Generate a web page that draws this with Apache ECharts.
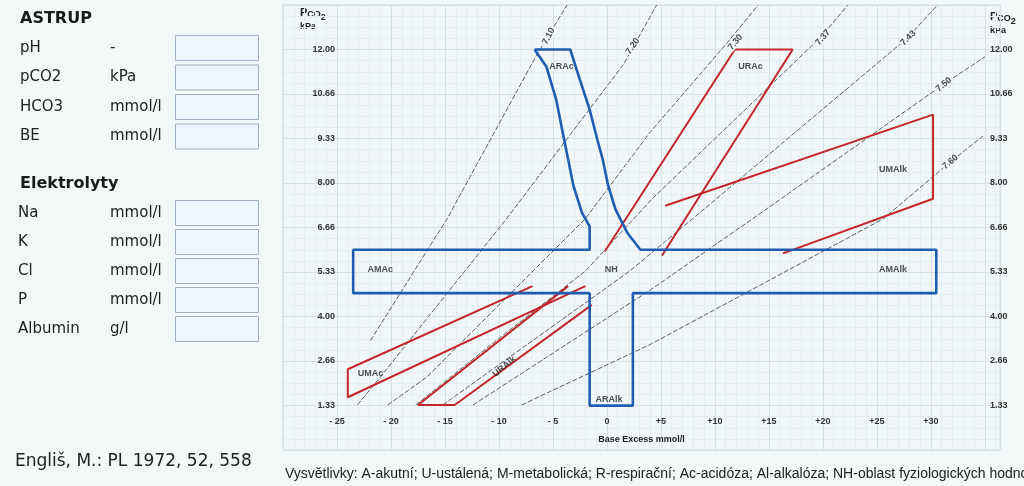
<!DOCTYPE html>
<html>
<head>
<meta charset="utf-8">
<script src="https://cdn.jsdelivr.net/npm/echarts/dist/echarts.min.js"></script>
<style>
  html, body { margin: 0; padding: 0; background: #f2f7f7; }
  #chart { width: 1024px; height: 486px; }
</style>
</head>
<body>
<div id="chart"></div>
<script>
// Base excess axis (mmol/l) and pCO2 axis (kPa)
const beTicks = [-25, -20, -15, -10, -5, 0, 5, 10, 15, 20, 25, 30];
const beTickLabels = ['- 25', '- 20', '- 15', '- 10', '- 5', '0', '+5', '+10', '+15', '+20', '+25', '+30'];
const pco2TickLabels = ['1.33', '2.66', '4.00', '5.33', '6.66', '8.00', '9.33', '10.66', '12.00'];

// Acute zones + normal range (blue outline): ARAc, AMAc, ARAlk, AMAlk, NH
const acuteOutline = [
  [-6.7, 12.0], [-5.6, 11.48], [-4.7, 10.5], [-4.1, 9.52], [-3.6, 8.72], [-3.1, 7.91],
  [-2.3, 7.1], [-1.6, 6.7], [-1.6, 6.0], [-23.5, 6.0], [-23.5, 4.7], [-1.6, 4.7],
  [-1.6, 1.33], [2.4, 1.33], [2.4, 4.7], [30.5, 4.7], [30.5, 6.0], [3.1, 6.0],
  [1.9, 6.5], [0.8, 7.2], [0.1, 7.94], [-0.4, 8.72], [-0.9, 9.31], [-1.6, 10.2],
  [-2.5, 11.09], [-3.4, 12.0], [-6.7, 12.0]
];

// Compensated (steady state) zones, red outlines
const uraCZone = [[-0.2, 5.95], [11.85, 12.0], [17.2, 12.0], [5.1, 5.83]];
const umaLkZone = [[5.4, 7.32], [30.2, 10.05], [30.2, 7.53], [16.3, 5.89]];
const umaCZone = [[-6.9, 4.91], [-24.0, 2.42], [-24.0, 1.58], [-2.0, 4.91]];
const uraLkZone = [[-3.6, 4.91], [-17.5, 1.35], [-14.1, 1.35], [-1.4, 4.35]];

// pH isopleths
const ph710 = [[-21.9, 3.28], [-14.8, 6.93], [-6.5, 11.84], [-3.7, 13.33]];
const ph720 = [[-23.1, 1.35], [-21.0, 2.18], [-9.3, 6.93], [1.5, 11.54], [4.6, 13.33]];
const ph730 = [[-20.3, 1.35], [-16.7, 2.18], [-2.0, 6.93], [4.0, 9.52], [11.1, 12.19], [14.0, 13.33]];
const ph737 = [[-17.7, 1.35], [-9.9, 3.37], [-2.0, 5.36], [4.2, 7.53], [19.9, 12.4], [22.3, 13.33]];
const ph743 = [[-15.2, 1.35], [2.1, 5.36], [8.6, 7.11], [27.8, 12.34], [30.6, 13.33]];
const ph750 = [[-12.4, 1.35], [4.0, 4.79], [13.5, 6.93], [31.1, 10.94], [35.0, 11.78]];
const ph760 = [[-7.9, 1.35], [4.0, 3.16], [25.6, 6.93], [31.8, 8.63], [34.8, 9.4]];
const phNames = ['7.10', '7.20', '7.30', '7.37', '7.43', '7.50', '7.60'];
const phLabelPos = [[-5.4, 12.4], [2.4, 12.1], [11.9, 12.22], [20.0, 12.36], [27.9, 12.34], [31.2, 10.95], [31.8, 8.63]];
const phLabelAngle = [62, 55, 50, 48, 45, 40, 40];

// Zone names
const zoneNames = ['ARAc', 'URAc', 'UMAlk', 'AMAc', 'NH', 'AMAlk', 'UMAc', 'URAlk', 'ARAlk'];
const zonePos = [[-4.2, 11.5], [13.3, 11.5], [26.5, 8.4], [-21.0, 5.4], [0.4, 5.4], [26.5, 5.4], [-21.9, 2.3], [-9.5, 2.5], [0.2, 1.5]];
const zoneAngle = [0, 0, 0, 0, 0, 0, 0, 40, 0];

// Left-hand form
const astrupRows = [['pH', '-'], ['pCO2', 'kPa'], ['HCO3', 'mmol/l'], ['BE', 'mmol/l']];
const elektroRows = [['Na', 'mmol/l'], ['K', 'mmol/l'], ['Cl', 'mmol/l'], ['P', 'mmol/l'], ['Albumin', 'g/l']];

const chart = echarts.init(document.getElementById('chart'), null, { renderer: 'canvas' });

const isoLines = [ph710, ph720, ph730, ph737, ph743, ph750, ph760];
const isoSeries = isoLines.map(function (d) {
  return {
    type: 'line', data: d, showSymbol: false, silent: true, z: 2,
    lineStyle: { color: '#4a4f55', width: 0.9, type: [5, 2] }
  };
});

function outline(d, color, w) {
  return { type: 'line', data: d, showSymbol: false, silent: true, z: 4,
    lineStyle: { color: color, width: w } };
}

const graphics = [];
graphics.push({ type: 'text', left: 20, top: 11, style: { text: 'ASTRUP', font: 'bold 16px "DejaVu Sans"', fill: '#1a1a1a' } });
astrupRows.forEach(function (r, i) {
  const y = 48 + i * 29.5;
  graphics.push({ type: 'text', x: 20, y: y, style: { text: r[0], font: '15px "DejaVu Sans"', fill: '#222', verticalAlign: 'middle' } });
  graphics.push({ type: 'text', x: 110, y: y, style: { text: r[1], font: '15px "DejaVu Sans"', fill: '#222', verticalAlign: 'middle' } });
  graphics.push({ type: 'rect', shape: { x: 175.5, y: y - 12.5, width: 83, height: 25 }, style: { fill: '#eef6fc', stroke: '#9fb1c0', lineWidth: 1 } });
});
graphics.push({ type: 'text', left: 20, top: 176, style: { text: 'Elektrolyty', font: 'bold 16px "DejaVu Sans"', fill: '#1a1a1a' } });
elektroRows.forEach(function (r, i) {
  const y = 213 + i * 29;
  graphics.push({ type: 'text', x: 18, y: y, style: { text: r[0], font: '15px "DejaVu Sans"', fill: '#222', verticalAlign: 'middle' } });
  graphics.push({ type: 'text', x: 110, y: y, style: { text: r[1], font: '15px "DejaVu Sans"', fill: '#222', verticalAlign: 'middle' } });
  graphics.push({ type: 'rect', shape: { x: 175.5, y: y - 12.5, width: 83, height: 25 }, style: { fill: '#eef6fc', stroke: '#9fb1c0', lineWidth: 1 } });
});
graphics.push({ type: 'text', x: 15, y: 462, style: { text: 'Engliš, M.: PL 1972, 52, 558', font: '17px "DejaVu Sans"', fill: '#222', verticalAlign: 'middle' } });
graphics.push({ type: 'text', x: 285, y: 474, style: { text: 'Vysvětlivky: A-akutní; U-ustálená; M-metabolická; R-respirační; Ac-acidóza; Al-alkalóza; NH-oblast fyziologických hodnot', font: '14px "Liberation Sans", sans-serif', fill: '#222', verticalAlign: 'middle' } });

function pco2Title(x, y) {
  return { type: 'text', x: x, y: y, style: {
    text: '{p|P}{s|CO}{t|2}\n{k|kPa}',
    rich: {
      p: { font: 'bold 11px "Liberation Sans"', fill: '#222', lineHeight: 12 },
      s: { font: 'bold 9px "Liberation Sans"', fill: '#222', padding: [4, 0, 0, 0] },
      t: { font: 'bold 9px "Liberation Sans"', fill: '#222', padding: [9, 0, 0, 0] },
      k: { font: 'bold 9px "Liberation Sans"', fill: '#222', lineHeight: 10 }
    }
  } };
}
graphics.push(pco2Title(300, 4));
graphics.push(pco2Title(990, 8));

const zoneData = zoneNames.map(function (n, i) {
  return { name: n, value: zonePos[i], label: { rotate: zoneAngle[i] } };
});
const phData = phNames.map(function (n, i) {
  return { name: n, value: phLabelPos[i], label: { rotate: phLabelAngle[i] } };
});

function yLabel(v) {
  const idx = Math.round(v * 3 / 4) - 1;
  return (idx >= 0 && idx < pco2TickLabels.length) ? pco2TickLabels[idx] : '';
}

const option = {
  backgroundColor: '#f2f7f7',
  animation: false,
  graphic: graphics,
  grid: {
    left: 283, top: 5, width: 717, height: 445, show: true,
    backgroundColor: '#f1f7f9', borderColor: '#d3e0e6', borderWidth: 1
  },
  xAxis: {
    type: 'value', min: -30, max: 36.4, interval: 5,
    offset: -33,
    name: 'Base Excess mmol/l', nameLocation: 'middle', nameGap: 18,
    nameTextStyle: { fontFamily: 'Liberation Sans', fontWeight: 'bold', fontSize: 9, color: '#222' },
    axisLine: { show: false, onZero: false }, axisTick: { show: false },
    axisLabel: {
      margin: 0, fontFamily: 'Liberation Sans', fontWeight: 'bold', fontSize: 9, color: '#333',
      showMaxLabel: false, showMinLabel: false,
      formatter: function (v) { const i = beTicks.indexOf(Math.round(v)); return i >= 0 ? beTickLabels[i] : ''; }
    },
    splitLine: { show: true, lineStyle: { color: '#d5e1e7', width: 1 } },
    minorTick: { show: false, splitNumber: 5 },
    minorSplitLine: { show: true, lineStyle: { color: '#e4edf1', width: 1 } }
  },
  yAxis: [{
    type: 'value', min: 0, max: 40 / 3, interval: 4 / 3, position: 'left',
    offset: -52,
    axisLine: { show: false, onZero: false }, axisTick: { show: false },
    axisLabel: { margin: 0, fontFamily: 'Liberation Sans', fontWeight: 'bold', fontSize: 9, color: '#333', formatter: yLabel },
    splitLine: { show: true, lineStyle: { color: '#d5e1e7', width: 1 } },
    minorTick: { show: false, splitNumber: 4 },
    minorSplitLine: { show: true, lineStyle: { color: '#e4edf1', width: 1 } }
  }, {
    type: 'value', min: 0, max: 40 / 3, interval: 4 / 3, position: 'right',
    offset: -10,
    axisLine: { show: false, onZero: false }, axisTick: { show: false }, splitLine: { show: false },
    axisLabel: { margin: 0, fontFamily: 'Liberation Sans', fontWeight: 'bold', fontSize: 9, color: '#333', formatter: yLabel }
  }],
  series: isoSeries.concat([
    outline(uraCZone, '#c3272c', 2),
    outline(umaLkZone, '#c3272c', 2),
    outline(umaCZone, '#c3272c', 2),
    outline(uraLkZone, '#c3272c', 2),
    outline(acuteOutline, '#1f5db0', 2.6),
    {
      type: 'scatter', data: phData, symbolSize: 0, silent: true, z: 5,
      label: { show: true, position: 'inside', formatter: '{b}', fontFamily: 'Liberation Sans', fontWeight: 'bold', fontSize: 9, color: '#222',
        backgroundColor: '#f1f7f9', padding: [0, 1] }
    },
    {
      type: 'scatter', data: zoneData, symbolSize: 0, silent: true, z: 6,
      label: { show: true, position: 'inside', formatter: '{b}', fontFamily: 'Liberation Sans', fontWeight: 'bold', fontSize: 9, color: '#222' }
    }
  ])
};
chart.setOption(option);
</script>
</body>
</html>
